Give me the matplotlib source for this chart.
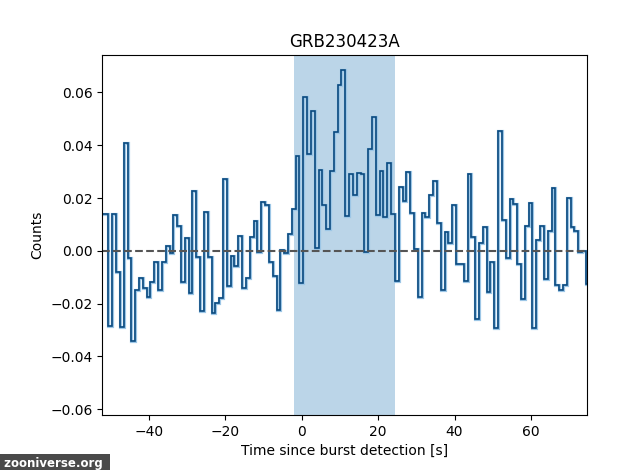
import numpy as np
import matplotlib
matplotlib.use("Agg")
import matplotlib.pyplot as plt
import matplotlib.patheffects as pe

# ---- data ----
first_edge = -52.6
bin_width = 1.0
counts = [
    0.0138, 0.0138, -0.0284, 0.0138, -0.0080, -0.0290, 0.0409, -0.0027, -0.0342, -0.0148,
    -0.0104, -0.0142, -0.0176, -0.0118, -0.0043, -0.0147, -0.0044, 0.0019, -0.0008, 0.0135,
    0.0094, -0.0119, 0.0048, -0.0161, 0.0227, -0.0024, -0.0227, 0.0148, -0.0025, -0.0234,
    -0.0197, -0.0177, 0.0271, -0.0134, -0.0019, -0.0059, 0.0056, -0.0142, -0.0104, 0.0052,
    0.0112, -0.0005, 0.0185, 0.0175, -0.0041, -0.0097, -0.0223, 0.0004, -0.0008, 0.0065,
    0.0158, 0.0359, -0.0122, 0.0584, 0.0366, 0.0529, 0.0011, 0.0308, 0.0172, 0.0081,
    0.0303, 0.0452, 0.0627, 0.0685, 0.0132, 0.0292, 0.0210, 0.0296, 0.0292, -0.0005,
    0.0387, 0.0508, 0.0137, 0.0301, 0.0130, 0.0333, 0.0138, -0.0113, 0.0242, 0.0189,
    0.0299, 0.0144, 0.0008, -0.0176, 0.0145, 0.0128, 0.0210, 0.0263, 0.0106, -0.0147,
    0.0071, 0.0030, 0.0173, -0.0048, -0.0048, -0.0115, 0.0293, 0.0053, -0.0260, 0.0029,
    0.0090, -0.0157, -0.0044, -0.0291, 0.0453, 0.0118, -0.0027, 0.0196, 0.0178, -0.0049,
    -0.0183, 0.0093, 0.0181, -0.0293, 0.0041, 0.0093, -0.0106, 0.0077, 0.0237, -0.0130,
    -0.0149, -0.0130, 0.0200, 0.0089, 0.0075, -0.0005, 0.0001, -0.0126,
]
burst_window = (-2.0, 24.4)
title = "GRB230423A"
xlabel = "Time since burst detection [s]"
ylabel = "Counts"

edges = first_edge + bin_width * np.arange(len(counts) + 1)

fig = plt.figure(figsize=(6.34, 4.70), dpi=100)
ax = fig.add_axes([102.3 / 634, 1 - 415 / 470, (586.7 - 102.3) / 634, (415 - 55) / 470])

ax.axvspan(burst_window[0], burst_window[1], color="C0", alpha=0.3, lw=0)
ax.axhline(0, color="#555555", ls="--", lw=1.5)
ax.stairs(counts, edges, color="#0a4a7f", lw=1.2, baseline=None,
          path_effects=[pe.Stroke(linewidth=2.3, foreground="#9cc6e6"), pe.Normal()])

ax.set_xlim(-52.2, 74.6)
ax.set_ylim(-0.0622, 0.0742)
ax.set_xticks([-40, -20, 0, 20, 40, 60])
ax.set_yticks([-0.06, -0.04, -0.02, 0.0, 0.02, 0.04, 0.06])
ax.set_title(title, fontsize=12)
ax.set_xlabel(xlabel)
ax.set_ylabel(ylabel)

fig.text(0.0, 0.0, " zooniverse.org ", color="white", fontsize=8.5, fontweight="bold",
         ha="left", va="bottom",
         bbox=dict(boxstyle="square,pad=0.25", fc="#4a4a4a", ec="none"))

fig.savefig("out.png", dpi=100)
